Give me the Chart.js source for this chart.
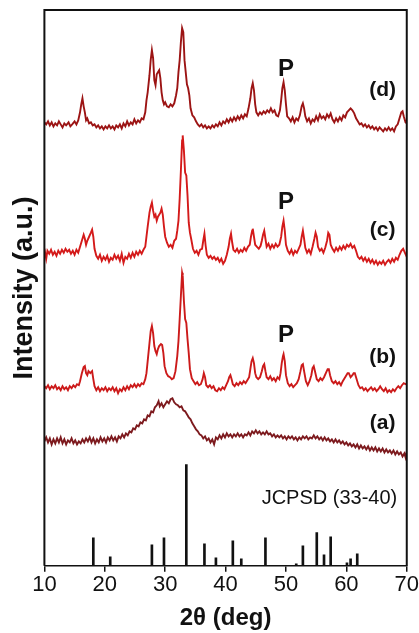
<!DOCTYPE html>
<html>
<head>
<meta charset="utf-8">
<script src="https://cdn.jsdelivr.net/npm/chart.js@4.4.1/dist/chart.umd.min.js"></script>
<style>
  html, body { margin: 0; padding: 0; background: #fff; }
  #wrap { width: 419px; height: 633px; position: relative; }
</style>
</head>
<body>
<div id="wrap"><canvas id="xrd"></canvas></div>
<script>
// 2theta (deg) vs intensity (a.u., patterns stacked with offsets)
const curveD = [[10.0,442],[10.3,440],[10.6,443],[10.9,439],[11.2,442],[11.5,438],[11.8,441],[12.1,439],[12.4,443],[12.7,440],[13.0,437],[13.3,441],[13.6,439],[14.0,442],[14.3,438],[14.6,440],[15.0,443],[15.3,440],[15.6,444],[15.9,452],[16.1,460],[16.3,466],[16.5,458],[16.7,452],[16.9,444],[17.1,446],[17.4,441],[17.7,442],[18.0,439],[18.3,440],[18.6,437],[18.9,439],[19.2,436],[19.5,438],[19.8,435],[20.1,438],[20.4,436],[20.7,439],[21.0,436],[21.3,438],[21.6,435],[21.9,439],[22.2,437],[22.5,440],[22.8,436],[23.1,441],[23.4,438],[23.7,443],[24.0,439],[24.3,442],[24.6,440],[24.9,445],[25.2,441],[25.5,444],[25.8,442],[26.1,446],[26.4,445],[26.7,452],[26.9,464],[27.1,472],[27.4,489],[27.6,504],[27.8,514],[28.0,506],[28.2,484],[28.4,479],[28.6,490],[28.8,492],[29.0,494],[29.2,486],[29.4,472],[29.6,464],[29.8,460],[30.0,462],[30.3,458],[30.6,457],[30.9,460],[31.2,458],[31.5,461],[31.8,469],[32.0,476],[32.2,492],[32.4,504],[32.6,522],[32.8,536],[33.0,532],[33.2,504],[33.4,492],[33.6,480],[33.8,476],[34.0,469],[34.2,456],[34.5,449],[34.8,447],[35.1,443],[35.4,440],[35.7,438],[36.0,440],[36.3,437],[36.6,439],[36.9,436],[37.2,438],[37.5,436],[37.8,439],[38.1,437],[38.4,440],[38.7,438],[39.0,442],[39.3,439],[39.6,443],[39.9,441],[40.2,445],[40.5,442],[40.8,446],[41.1,443],[41.4,447],[41.7,444],[42.0,448],[42.3,445],[42.6,449],[42.9,446],[43.2,450],[43.5,448],[43.8,456],[44.1,466],[44.3,476],[44.5,481],[44.7,474],[44.9,460],[45.1,452],[45.4,449],[45.7,452],[46.0,450],[46.3,453],[46.6,451],[46.9,454],[47.2,452],[47.5,456],[47.8,452],[48.1,454],[48.4,449],[48.7,448],[49.0,454],[49.2,464],[49.4,476],[49.6,482],[49.8,474],[50.0,460],[50.2,448],[50.5,446],[50.8,443],[51.1,447],[51.4,442],[51.7,446],[52.0,444],[52.3,449],[52.6,458],[52.8,461],[53.0,456],[53.2,448],[53.5,443],[53.8,446],[54.1,441],[54.4,445],[54.7,443],[55.0,448],[55.3,444],[55.6,450],[55.9,446],[56.2,448],[56.5,445],[56.8,450],[57.1,447],[57.4,451],[57.7,445],[58.0,442],[58.3,446],[58.6,443],[58.9,447],[59.2,444],[59.5,449],[59.8,447],[60.1,452],[60.4,454],[60.7,456],[61.0,454],[61.3,451],[61.6,446],[61.9,443],[62.2,440],[62.5,441],[62.8,438],[63.1,440],[63.4,437],[63.7,439],[64.0,436],[64.3,438],[64.6,435],[64.9,437],[65.2,434],[65.5,437],[65.8,435],[66.1,433],[66.4,436],[66.7,434],[67.0,437],[67.3,434],[67.6,436],[67.9,433],[68.2,438],[68.5,440],[68.8,446],[69.1,452],[69.3,453],[69.5,448],[69.8,442],[70.0,441]];

const curveC = [[10.0,316],[10.3,306],[10.5,314],[10.8,311],[11.1,315],[11.4,310],[11.7,313],[12.0,309],[12.3,314],[12.6,311],[12.9,315],[13.2,312],[13.5,316],[13.8,313],[14.1,315],[14.4,311],[14.7,314],[15.0,310],[15.3,315],[15.6,312],[15.9,318],[16.2,324],[16.5,330],[16.7,326],[16.9,320],[17.1,324],[17.4,328],[17.7,332],[17.9,335],[18.1,328],[18.3,316],[18.6,309],[18.9,306],[19.2,310],[19.5,304],[19.8,308],[20.1,305],[20.4,309],[20.7,303],[21.0,307],[21.3,305],[21.6,310],[21.9,306],[22.2,309],[22.5,304],[22.8,311],[23.1,302],[23.4,308],[23.7,306],[24.0,311],[24.3,307],[24.6,312],[24.9,308],[25.2,313],[25.5,310],[25.8,314],[26.1,311],[26.4,315],[26.7,318],[26.9,328],[27.1,338],[27.4,352],[27.6,358],[27.8,362],[28.0,354],[28.2,348],[28.4,350],[28.6,344],[28.8,348],[29.0,350],[29.2,352],[29.4,356],[29.6,350],[29.8,338],[30.0,328],[30.3,322],[30.6,318],[30.9,320],[31.2,317],[31.5,324],[31.8,326],[32.0,334],[32.2,344],[32.4,366],[32.6,394],[32.8,424],[32.9,429],[33.1,414],[33.3,392],[33.5,389],[33.7,369],[33.9,342],[34.1,332],[34.3,326],[34.6,316],[34.9,312],[35.2,314],[35.5,310],[35.8,315],[36.1,316],[36.3,324],[36.5,331],[36.7,319],[36.9,310],[37.2,307],[37.5,309],[37.8,306],[38.1,308],[38.4,305],[38.7,307],[39.0,303],[39.3,306],[39.6,301],[39.9,304],[40.2,310],[40.5,318],[40.7,326],[40.9,331],[41.1,322],[41.3,315],[41.6,313],[41.9,316],[42.2,312],[42.5,315],[42.8,313],[43.1,317],[43.4,314],[43.7,318],[44.0,320],[44.2,328],[44.4,334],[44.5,336],[44.7,328],[44.9,320],[45.2,318],[45.5,316],[45.8,319],[46.0,324],[46.2,330],[46.4,334],[46.6,326],[46.8,318],[47.1,321],[47.4,316],[47.7,320],[48.0,317],[48.3,321],[48.6,318],[48.9,320],[49.2,328],[49.4,338],[49.6,344],[49.8,334],[50.0,320],[50.3,314],[50.6,311],[50.9,315],[51.2,310],[51.5,314],[51.8,312],[52.1,316],[52.4,320],[52.6,328],[52.8,334],[53.0,326],[53.2,317],[53.5,312],[53.8,315],[54.1,311],[54.4,318],[54.7,326],[54.9,332],[55.1,328],[55.3,318],[55.6,314],[55.9,316],[56.2,312],[56.5,317],[56.8,324],[57.0,332],[57.2,330],[57.4,320],[57.7,316],[58.0,313],[58.3,317],[58.6,314],[58.9,318],[59.2,315],[59.5,319],[59.8,316],[60.1,320],[60.4,318],[60.7,321],[61.0,317],[61.3,319],[61.6,314],[61.9,308],[62.2,306],[62.5,308],[62.8,304],[63.1,307],[63.4,303],[63.7,306],[64.0,302],[64.3,305],[64.6,301],[64.9,304],[65.2,300],[65.5,303],[65.8,301],[66.1,304],[66.4,300],[66.7,303],[67.0,305],[67.3,302],[67.6,306],[67.9,303],[68.2,307],[68.5,305],[68.8,310],[69.1,314],[69.4,316],[69.7,312],[70.0,308]];

const curveB = [[10.0,179],[10.3,177],[10.6,180],[10.9,176],[11.2,179],[11.5,177],[11.8,180],[12.1,176],[12.4,178],[12.7,175],[13.0,179],[13.3,176],[13.6,178],[13.9,175],[14.2,179],[14.5,177],[14.8,180],[15.1,178],[15.4,181],[15.7,180],[15.9,184],[16.2,192],[16.5,198],[16.7,199],[16.9,192],[17.1,190],[17.3,194],[17.6,192],[17.9,194],[18.1,186],[18.3,179],[18.6,175],[18.9,178],[19.2,174],[19.5,177],[19.8,175],[20.1,178],[20.4,174],[20.7,177],[21.0,175],[21.3,178],[21.6,174],[21.9,177],[22.2,172],[22.5,176],[22.8,174],[23.1,178],[23.4,175],[23.7,179],[24.0,176],[24.3,180],[24.6,178],[24.9,181],[25.2,178],[25.5,181],[25.8,179],[26.1,182],[26.4,181],[26.7,186],[26.9,192],[27.1,204],[27.4,222],[27.6,234],[27.8,239],[28.0,232],[28.2,219],[28.4,214],[28.6,211],[28.8,216],[29.0,219],[29.3,221],[29.5,220],[29.7,212],[29.9,199],[30.2,192],[30.5,189],[30.8,188],[31.1,186],[31.4,187],[31.7,194],[32.0,209],[32.2,224],[32.4,246],[32.6,269],[32.8,292],[32.9,289],[33.1,264],[33.3,246],[33.5,242],[33.7,226],[33.9,212],[34.1,196],[34.4,187],[34.7,184],[35.0,181],[35.3,183],[35.6,180],[35.9,181],[36.2,186],[36.4,192],[36.6,188],[36.8,180],[37.1,178],[37.4,180],[37.7,177],[38.0,179],[38.3,175],[38.6,174],[38.9,177],[39.2,175],[39.5,178],[39.8,176],[40.1,180],[40.4,184],[40.6,188],[40.8,190],[41.0,186],[41.2,181],[41.5,179],[41.8,182],[42.1,180],[42.4,183],[42.7,181],[43.0,184],[43.3,182],[43.6,185],[43.9,188],[44.1,196],[44.3,204],[44.5,207],[44.7,202],[44.9,192],[45.1,188],[45.4,186],[45.7,188],[46.0,194],[46.2,199],[46.4,201],[46.6,194],[46.8,188],[47.1,186],[47.4,189],[47.7,185],[48.0,187],[48.3,184],[48.6,188],[48.9,186],[49.1,192],[49.3,202],[49.5,209],[49.6,211],[49.8,204],[50.0,190],[50.3,182],[50.6,179],[50.9,181],[51.2,178],[51.5,180],[51.8,182],[52.1,186],[52.4,194],[52.6,200],[52.8,201],[53.0,194],[53.3,184],[53.6,180],[53.9,184],[54.2,190],[54.4,197],[54.6,199],[54.8,194],[55.1,186],[55.4,184],[55.7,187],[56.0,185],[56.3,188],[56.6,192],[56.9,196],[57.1,196],[57.3,190],[57.6,184],[57.9,182],[58.2,184],[58.5,181],[58.8,183],[59.1,180],[59.4,184],[59.7,187],[60.0,190],[60.2,192],[60.4,192],[60.7,188],[61.0,190],[61.2,192],[61.4,192],[61.7,186],[62.0,180],[62.3,177],[62.6,178],[62.9,175],[63.2,177],[63.5,174],[63.8,176],[64.1,178],[64.4,175],[64.7,177],[65.0,174],[65.3,176],[65.6,179],[65.9,176],[66.2,174],[66.5,177],[66.8,173],[67.1,175],[67.4,173],[67.7,176],[68.0,174],[68.3,177],[68.6,179],[68.9,177],[69.2,180],[69.5,182],[69.8,181],[70.0,182]];

const curveA = [[10.0,124],[10.3,128],[10.6,123],[10.9,127],[11.2,121],[11.5,126],[11.8,122],[12.1,127],[12.4,123],[12.7,128],[13.0,122],[13.3,126],[13.6,121],[13.9,125],[14.2,123],[14.5,127],[14.8,122],[15.1,125],[15.4,121],[15.7,124],[16.0,122],[16.3,126],[16.6,123],[16.9,127],[17.2,124],[17.5,128],[17.8,123],[18.1,127],[18.4,122],[18.7,126],[19.0,123],[19.3,128],[19.6,124],[19.9,127],[20.2,123],[20.5,128],[20.8,125],[21.1,129],[21.4,125],[21.7,128],[22.0,124],[22.3,129],[22.6,127],[22.9,131],[23.2,128],[23.5,132],[23.8,130],[24.1,134],[24.4,133],[24.7,137],[25.0,136],[25.3,140],[25.6,139],[25.9,143],[26.2,142],[26.5,146],[26.8,145],[27.1,150],[27.4,149],[27.7,154],[28.0,153],[28.3,158],[28.6,160],[28.9,164],[29.1,159],[29.4,162],[29.7,158],[30.0,161],[30.3,164],[30.6,162],[30.9,166],[31.2,167],[31.5,163],[31.8,161],[32.1,160],[32.4,158],[32.7,159],[33.0,155],[33.3,154],[33.6,151],[33.9,148],[34.2,146],[34.5,142],[34.8,139],[35.1,136],[35.4,134],[35.7,131],[36.0,130],[36.3,127],[36.6,129],[36.9,125],[37.2,127],[37.5,123],[37.8,126],[38.1,121],[38.4,128],[38.7,126],[39.0,130],[39.3,127],[39.6,131],[39.9,128],[40.2,132],[40.5,129],[40.8,131],[41.1,128],[41.4,131],[41.7,129],[42.0,132],[42.3,129],[42.6,131],[42.9,128],[43.2,131],[43.5,130],[43.8,133],[44.1,130],[44.4,134],[44.7,132],[45.0,135],[45.3,132],[45.6,134],[45.9,131],[46.2,133],[46.5,131],[46.8,134],[47.1,131],[47.4,132],[47.7,129],[48.0,131],[48.3,128],[48.6,130],[48.9,128],[49.2,130],[49.5,127],[49.8,129],[50.1,126],[50.4,129],[50.7,127],[51.0,129],[51.3,126],[51.6,128],[51.9,125],[52.2,128],[52.5,126],[52.8,129],[53.1,127],[53.4,129],[53.7,126],[54.0,128],[54.3,127],[54.6,130],[54.9,127],[55.2,129],[55.5,126],[55.8,128],[56.1,125],[56.4,128],[56.7,125],[57.0,127],[57.3,124],[57.6,126],[57.9,123],[58.2,126],[58.5,123],[58.8,125],[59.1,122],[59.4,124],[59.7,121],[60.0,123],[60.3,120],[60.6,122],[60.9,119],[61.2,121],[61.5,118],[61.8,121],[62.1,117],[62.4,120],[62.7,117],[63.0,119],[63.3,116],[63.6,119],[63.9,115],[64.2,118],[64.5,115],[64.8,118],[65.1,114],[65.4,117],[65.7,114],[66.0,117],[66.3,113],[66.6,116],[66.9,113],[67.2,115],[67.5,112],[67.8,115],[68.1,111],[68.4,114],[68.7,111],[69.0,113],[69.3,109],[69.6,112],[69.8,108],[70.0,114]];

// JCPDS reference sticks
const jcpdsAngles = [18.1, 20.9, 27.8, 29.8, 33.5, 36.5, 38.4, 41.2, 42.6, 46.6, 51.7, 52.8, 55.1, 56.3, 57.4, 60.1, 60.7, 61.8];
const jcpdsHeights = [28, 9, 21, 28, 101, 22, 8, 25, 7, 28, 2, 20, 33, 11, 29, 3, 7, 12];

const xTicks = [10, 20, 30, 40, 50, 60, 70];

// text labels placed in data coordinates
const labelTexts = ["(d)", "(c)", "(b)", "(a)", "P", "P", "P", "JCPSD (33-40)"];
const labelAngles = [66.0, 66.0, 66.0, 66.0, 50.0, 50.0, 50.0, 57.2];
const labelLevels = [474, 335, 208, 142, 495, 362, 230, 67];

const fontFamily = "Arial, 'Liberation Sans', sans-serif";
const inkColor = "#111";

const annotate = {
  id: "annotate",
  afterDatasetsDraw(chart) {
    const { ctx, chartArea, scales } = chart;
    ctx.save();
    // frame
    ctx.strokeStyle = inkColor;
    ctx.lineWidth = 2;
    ctx.beginPath();
    ctx.moveTo(chartArea.left, chartArea.bottom);
    ctx.lineTo(chartArea.left, chartArea.top);
    ctx.lineTo(chartArea.right, chartArea.top);
    ctx.lineTo(chartArea.right, chartArea.bottom);
    ctx.stroke();

    ctx.fillStyle = inkColor;
    ctx.textAlign = "center";
    ctx.textBaseline = "middle";
    labelTexts.forEach((t, i) => {
      const big = t === "P";
      const plain = t.startsWith("JCPSD");
      ctx.font = (plain ? "" : "bold ") + (big ? 24 : plain ? 20 : 21) + "px " + fontFamily;
      ctx.fillText(t, scales.x.getPixelForValue(labelAngles[i]), scales.y.getPixelForValue(labelLevels[i]));
    });
    ctx.restore();
  },
};

const lineSet = (label, data, color) => ({
  type: "line",
  label,
  data,
  borderColor: color,
  borderWidth: 1.9,
  pointRadius: 0,
  tension: 0,
  fill: false,
});

new Chart(document.getElementById("xrd"), {
  type: "line",
  data: {
    datasets: [
      lineSet("(d)", curveD, "#9c1414"),
      lineSet("(c)", curveC, "#d41a1a"),
      lineSet("(b)", curveB, "#cc1a1a"),
      lineSet("(a)", curveA, "#7d1a1e"),
      {
        type: "bar",
        label: "JCPSD (33-40)",
        data: jcpdsAngles.map((a, i) => ({ x: a, y: jcpdsHeights[i] })),
        backgroundColor: inkColor,
        barThickness: 2,
        grouped: false,
      },
    ],
  },
  options: {
    responsive: true,
    maintainAspectRatio: false,
    animation: false,
    devicePixelRatio: 1,
    layout: { padding: { top: 10, right: 12, left: 4, bottom: 0 } },
    plugins: {
      legend: { display: false },
      tooltip: { enabled: false },
    },
    scales: {
      x: {
        type: "linear",
        min: 10,
        max: 70,
        offset: false,
        afterBuildTicks: (axis) => {
          axis.ticks = xTicks.map((v) => ({ value: v }));
        },
        grid: {
          display: true,
          offset: false,
          drawOnChartArea: false,
          drawTicks: true,
          tickLength: 6,
          color: inkColor,
          lineWidth: 1.5,
        },
        border: { display: true, color: inkColor, width: 1.5 },
        ticks: {
          color: inkColor,
          padding: 0,
          maxRotation: 0,
          autoSkip: false,
          font: { family: fontFamily, size: 22 },
        },
        title: {
          display: true,
          text: "2θ (deg)",
          color: inkColor,
          padding: { top: 6, bottom: 0 },
          font: { family: fontFamily, size: 24, weight: "bold" },
        },
      },
      y: {
        min: 0,
        max: 554,
        ticks: { display: false },
        grid: { display: false, drawTicks: false },
        border: { display: false },
        title: {
          display: true,
          text: "Intensity (a.u.)",
          color: inkColor,
          padding: { top: 4, bottom: 4 },
          font: { family: fontFamily, size: 27, weight: "bold" },
        },
      },
    },
  },
  plugins: [annotate],
});
</script>
</body>
</html>
